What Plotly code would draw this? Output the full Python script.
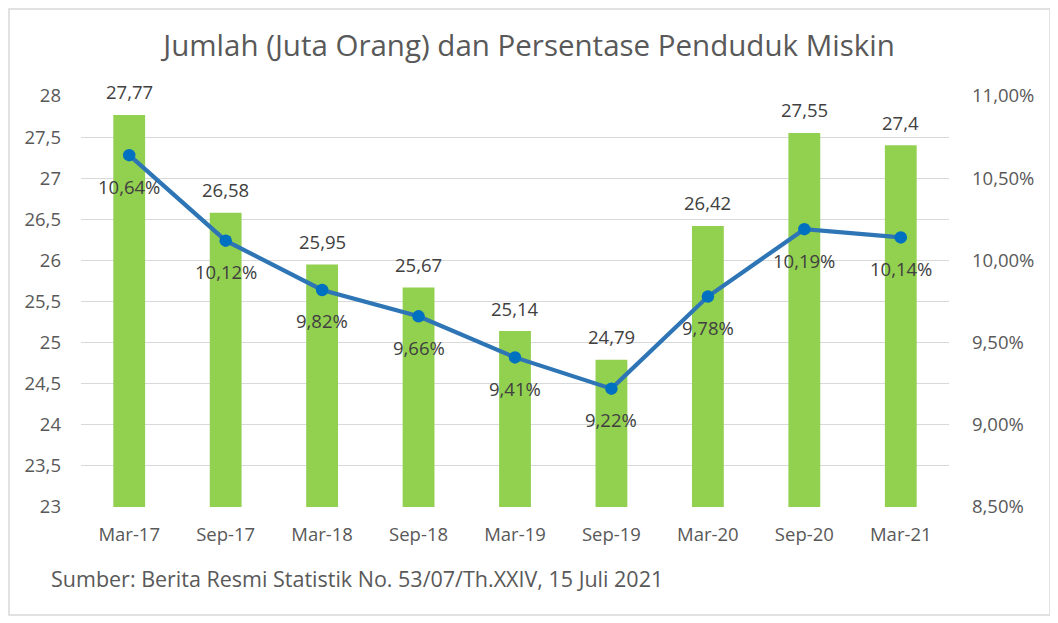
import plotly.graph_objects as go

categories = ["Mar-17", "Sep-17", "Mar-18", "Sep-18", "Mar-19", "Sep-19", "Mar-20", "Sep-20", "Mar-21"]
jumlah = [27.77, 26.58, 25.95, 25.67, 25.14, 24.79, 26.42, 27.55, 27.40]
persen = [10.64, 10.12, 9.82, 9.66, 9.41, 9.22, 9.78, 10.19, 10.14]
jumlah_labels = ["27,77", "26,58", "25,95", "25,67", "25,14", "24,79", "26,42", "27,55", "27,4"]
persen_labels = ["10,64%", "10,12%", "9,82%", "9,66%", "9,41%", "9,22%", "9,78%", "10,19%", "10,14%"]
left_ticks = [23, 23.5, 24, 24.5, 25, 25.5, 26, 26.5, 27, 27.5, 28]
left_tick_text = ["23", "23,5", "24", "24,5", "25", "25,5", "26", "26,5", "27", "27,5", "28"]
right_ticks = [8.5, 9.0, 9.5, 10.0, 10.5, 11.0]
right_tick_text = ["8,50%", "9,00%", "9,50%", "10,00%", "10,50%", "11,00%"]

FONT = "Open Sans"
GRAY = "#595959"
LABEL = "#404040"

OFF = 8  # browser body margin
W, H = 1058 - OFF, 623 - OFF
# page-pixel plot area: left 81, right 949, top 96, bottom 507
ML, MT = 81 - OFF, 96 - OFF
MR = W - (949 - OFF)
MB = H - (507 - OFF)
PW, PH = W - ML - MR, H - MT - MB


def px_x(x):
    return (x - 81) / PW


def px_y(y):
    return (507 - y) / PH


fig = go.Figure()
fig.add_trace(go.Bar(
    x=categories, y=jumlah, marker=dict(color="#92D050", line=dict(width=0)),
    width=0.33, name="Jumlah", hoverinfo="x+y",
))
fig.add_trace(go.Scatter(
    x=categories, y=persen, yaxis="y2", mode="lines+markers",
    line=dict(color="#2E75B6", width=4.2),
    marker=dict(color="#0070C0", size=12.5),
    name="Persentase",
))

annotations = []
for c, v, t in zip(categories, jumlah, jumlah_labels):
    annotations.append(dict(x=c, y=v, xref="x", yref="y", text=t, showarrow=False,
                            yshift=23, font=dict(family=FONT, size=18.5, color=LABEL)))
for c, v, t in zip(categories, persen, persen_labels):
    annotations.append(dict(x=c, y=v, xref="x", yref="y2", text=t, showarrow=False,
                            yshift=-31, font=dict(family=FONT, size=18.5, color=LABEL)))
annotations.append(dict(x=px_x(49), y=px_y(578), xref="paper", yref="paper",
                        xanchor="left", yanchor="middle", showarrow=False,
                        text="Sumber: Berita Resmi Statistik No. 53/07/Th.XXIV, 15 Juli 2021",
                        font=dict(family=FONT, size=21.5, color=GRAY)))

fig.update_layout(
    width=W, height=H,
    margin=dict(l=ML, r=MR, t=MT, b=MB, pad=0),
    paper_bgcolor="white", plot_bgcolor="white",
    showlegend=False,
    separators=",.",
    title=dict(text="Jumlah (Juta Orang) dan Persentase Penduduk Miskin",
               x=(529 - OFF) / W, xanchor="center", y=1 - (46 - OFF) / H, yanchor="middle",
               font=dict(family=FONT, size=29.5, color=GRAY)),
    xaxis=dict(showgrid=False, showline=False, ticks="", tickfont=dict(family=FONT, size=18.5, color=GRAY),
               ticklabelstandoff=14, range=[-0.5, 8.5]),
    yaxis=dict(range=[23, 28], tickvals=left_ticks, ticktext=left_tick_text,
               showgrid=True, gridcolor="#D9D9D9", gridwidth=1, zeroline=False, showline=False,
               tickfont=dict(family=FONT, size=18.5, color=GRAY), ticklabelstandoff=19),
    yaxis2=dict(range=[8.5, 11], overlaying="y", side="right", tickvals=right_ticks,
                ticktext=right_tick_text, showgrid=False, zeroline=False, showline=False,
                tickfont=dict(family=FONT, size=18.5, color=GRAY), ticklabelstandoff=22),
    annotations=annotations,
    shapes=[dict(type="rect", xref="paper", yref="paper",
                 x0=px_x(9), x1=px_x(1050),
                 y0=px_y(615), y1=px_y(9),
                 line=dict(color="#D9D9D9", width=1.5), fillcolor="rgba(0,0,0,0)", layer="below")],
)

fig.write_html("out.html")
